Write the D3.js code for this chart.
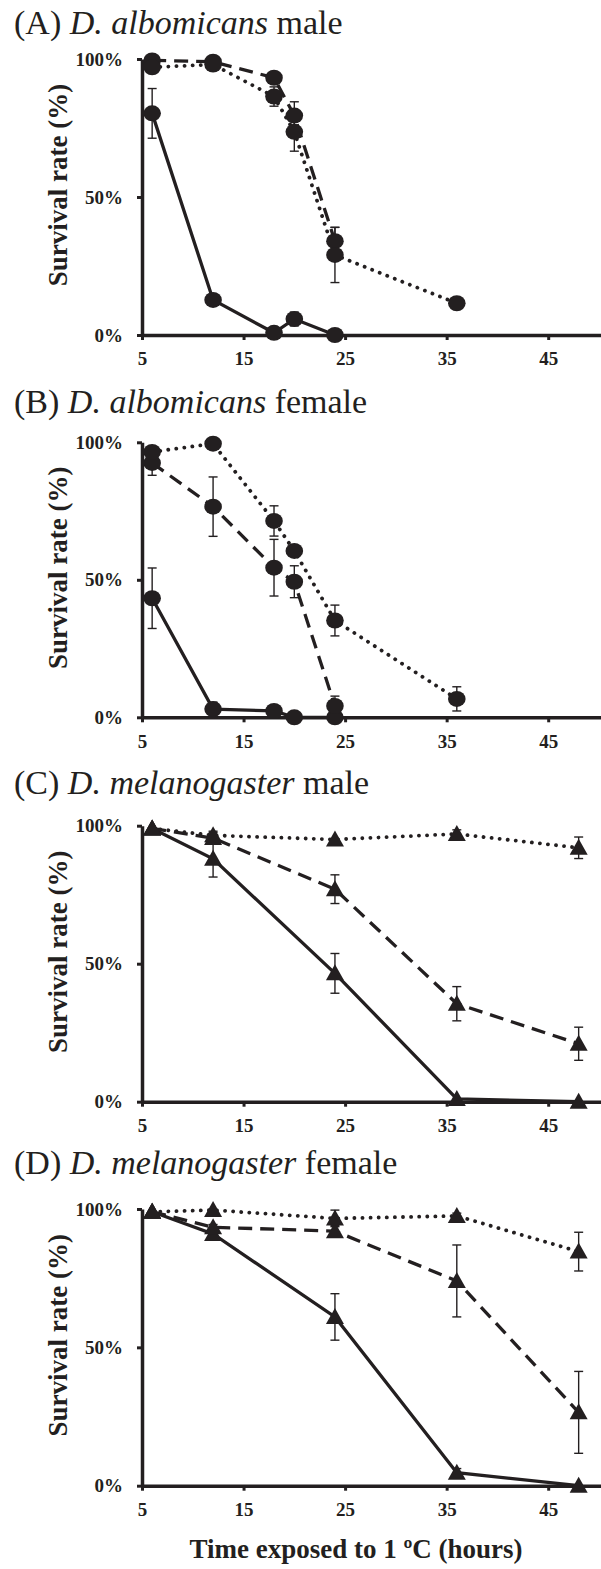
<!DOCTYPE html>
<html>
<head>
<meta charset="utf-8">
<script src="https://cdn.jsdelivr.net/npm/d3@7"></script>
<style>
  html, body { margin: 0; padding: 0; background: #fff; }
  svg { display: block; }
  text { font-family: "Liberation Serif", "Times New Roman", serif; fill: #231f20; }
</style>
</head>
<body>
<svg id="chart" width="601" height="1569"></svg>
<script>
// ---------- DATA ----------
const albTimes = [6, 12, 18, 20, 24, 36];
const melTimes = [6, 12, 24, 36, 48];
const xTicks = [5, 15, 25, 35, 45];
const yTicks = [0, 50, 100];

// (A) D. albomicans male
const aSolid = [80.3, 12.7, 0.8, 5.8, 0];
const aSolidErr = [9, 0, 0, 2.5, 0];
const aDashed = [99.5, 99, 93.2, 79.5, 34];
const aDashedErr = [0.5, 0.5, 1, 5, 5];
const aDotted = [97, 98, 86.4, 73.6, 29, 11.5];
const aDottedErr = [0.5, 0.5, 3.5, 7, 10, 1];

// (B) D. albomicans female
const bSolid = [43.3, 3, 2.3, 0, 0];
const bSolidErr = [11, 2.5, 0.5, 0, 0];
const bDashed = [92.5, 76.6, 54.4, 49.3, 4.1];
const bDashedErr = [4.5, 10.8, 10.3, 5.8, 3.6];
const bDotted = [96.5, 99.5, 71.4, 60.5, 35.2, 6.7];
const bDottedErr = [1, 0.5, 5.5, 1, 5.6, 4.4];

// (C) D. melanogaster male
const cSolid = [99, 88, 46.5, 1, 0];
const cSolidErr = [0.5, 6.6, 7.2, 0.5, 0];
const cDashed = [99, 95.5, 77, 35.5, 21];
const cDashedErr = [0.5, 2, 5.2, 6.2, 6];
const cDotted = [99, 96.5, 95, 97, 92];
const cDottedErr = [0.5, 1.5, 0.5, 1.5, 3.9];

// (D) D. melanogaster female
const dSolid = [99, 91, 61, 4.7, 0];
const dSolidErr = [0.5, 1.5, 8.4, 1.5, 0];
const dDashed = [99, 93.4, 92, 74, 26.5];
const dDashedErr = [0.5, 1, 2, 13, 14.8];
const dDotted = [99, 99.6, 96.6, 97.5, 84.6];
const dDottedErr = [0.5, 0.5, 3, 1, 7];

const panelTitles = [
  ["(A) ", "D. albomicans", " male"],
  ["(B) ", "D. albomicans", " female"],
  ["(C) ", "D. melanogaster", " male"],
  ["(D) ", "D. melanogaster", " female"]
];
const yTitle = "Survival rate (%)";
const xTitle = "Time exposed to 1 \u00BAC (hours)";

// ---------- LAYOUT ----------
const ink = "#231f20";
const layout = [
  { top: 59,    bottom: 335,    titleY: 34 },
  { top: 442.3, bottom: 717.3,  titleY: 413 },
  { top: 825.7, bottom: 1101.7, titleY: 794 },
  { top: 1209,  bottom: 1485.7, titleY: 1174 }
];

function zip(times, vals, errs) {
  return vals.map((v, i) => ({ t: times[i], v: v, e: errs[i] }));
}

const panels = [
  { marker: "circle", series: [
      { style: "solid",  pts: zip(albTimes, aSolid, aSolidErr) },
      { style: "dashed", pts: zip(albTimes, aDashed, aDashedErr) },
      { style: "dotted", pts: zip(albTimes, aDotted, aDottedErr) } ] },
  { marker: "circle", series: [
      { style: "solid",  pts: zip(albTimes, bSolid, bSolidErr) },
      { style: "dashed", pts: zip(albTimes, bDashed, bDashedErr) },
      { style: "dotted", pts: zip(albTimes, bDotted, bDottedErr) } ] },
  { marker: "triangle", series: [
      { style: "solid",  pts: zip(melTimes, cSolid, cSolidErr) },
      { style: "dashed", pts: zip(melTimes, cDashed, cDashedErr) },
      { style: "dotted", pts: zip(melTimes, cDotted, cDottedErr) } ] },
  { marker: "triangle", series: [
      { style: "solid",  pts: zip(melTimes, dSolid, dSolidErr) },
      { style: "dashed", pts: zip(melTimes, dDashed, dDashedErr) },
      { style: "dotted", pts: zip(melTimes, dDotted, dDottedErr) } ] }
];

const svg = d3.select("#chart");
const x = d3.scaleLinear().domain([5, 50.2]).range([142, 601]);

const dashFor = { solid: null, dashed: "14 8", dotted: "0.1 8" };

panels.forEach((p, pi) => {
  const L = layout[pi];
  const y = d3.scaleLinear().domain([0, 100]).range([L.bottom, L.top]);
  const g = svg.append("g");

  // Title
  const tt = g.append("text")
    .attr("x", 14).attr("y", L.titleY)
    .style("font-size", "34px");
  tt.append("tspan").text(panelTitles[pi][0]);
  tt.append("tspan").style("font-style", "italic").text(panelTitles[pi][1]);
  tt.append("tspan").text(panelTitles[pi][2]);

  // Y axis title
  g.append("text")
    .attr("transform", `translate(67,${(L.top + L.bottom) / 2 - 12}) rotate(-90)`)
    .attr("text-anchor", "middle")
    .style("font-size", "27px").style("font-weight", "bold")
    .text(yTitle);

  // Axes
  const xa = g.append("g").attr("transform", `translate(0,${L.bottom})`)
    .call(d3.axisBottom(x).tickValues(xTicks).tickSize(5).tickSizeOuter(0).tickPadding(12).tickFormat(d3.format("d")));
  const ya = g.append("g").attr("transform", `translate(142,0)`)
    .call(d3.axisLeft(y).tickValues(yTicks).tickSize(5).tickSizeOuter(0).tickPadding(14).tickFormat(d => d + "%"));
  [xa, ya].forEach(a => {
    a.select(".domain").attr("stroke", ink).attr("stroke-width", 3.5);
    a.selectAll(".tick line").attr("stroke", ink).attr("stroke-width", 3);
    a.selectAll(".tick text")
      .style("font-family", '"Liberation Serif", "Times New Roman", serif')
      .style("font-size", "19px").style("font-weight", "bold").attr("fill", ink);
  });

  // Lines
  const line = d3.line().x(d => x(d.t)).y(d => y(d.v));
  p.series.forEach(s => {
    g.append("path").datum(s.pts)
      .attr("fill", "none").attr("stroke", ink)
      .attr("stroke-width", s.style === "dotted" ? 3.8 : 3.3)
      .attr("stroke-linecap", s.style === "dotted" ? "round" : "butt")
      .attr("stroke-dasharray", dashFor[s.style])
      .attr("d", line);
  });

  // Error bars
  p.series.forEach(s => {
    const eg = g.append("g").attr("stroke", ink).attr("stroke-width", 1.4);
    s.pts.filter(d => d.e > 0.6).forEach(d => {
      const cx = x(d.t), y1 = y(d.v + d.e), y2 = y(d.v - d.e);
      eg.append("line").attr("x1", cx).attr("x2", cx).attr("y1", y1).attr("y2", y2);
      eg.append("line").attr("x1", cx - 4.5).attr("x2", cx + 4.5).attr("y1", y1).attr("y2", y1);
      eg.append("line").attr("x1", cx - 4.5).attr("x2", cx + 4.5).attr("y1", y2).attr("y2", y2);
    });
  });

  // Markers
  p.series.forEach(s => {
    if (p.marker === "circle") {
      g.selectAll(null).data(s.pts).enter().append("ellipse")
        .attr("cx", d => x(d.t)).attr("cy", d => y(d.v))
        .attr("rx", 8.8).attr("ry", 8).attr("fill", ink);
    } else {
      g.selectAll(null).data(s.pts).enter().append("path")
        .attr("d", d => {
          const cx = x(d.t), cy = y(d.v);
          return `M${cx},${cy - 9}L${cx + 9},${cy + 7}L${cx - 9},${cy + 7}Z`;
        })
        .attr("fill", ink);
    }
  });
});

// X axis title
svg.append("text")
  .attr("x", 356).attr("y", 1558)
  .attr("text-anchor", "middle")
  .style("font-size", "27px").style("font-weight", "bold")
  .text(xTitle);
</script>
</body>
</html>
